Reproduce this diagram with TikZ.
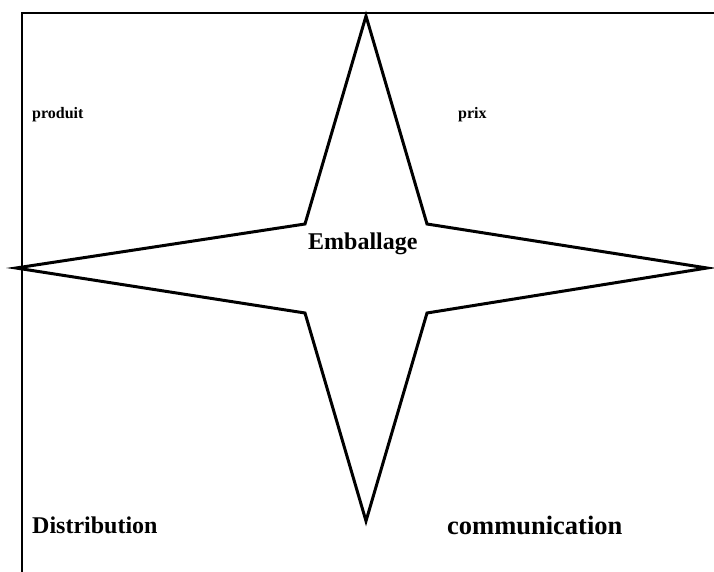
\documentclass[tikz,border=0pt]{standalone}
\usepackage{fontspec}
\setmainfont{Liberation Serif}
\usetikzlibrary{positioning}

\begin{document}
\begin{tikzpicture}[
      x=1pt, y=-1pt,
      every node/.style={inner sep=0pt, font=\bfseries},
      frameline/.style={line width=2.5pt},
      starline/.style={line width=3pt, line join=miter},
      biglabel/.style={anchor=base west, font=\fontsize{24}{28}\selectfont\bfseries},
      smalllabel/.style={anchor=base west, font=\fontsize{16}{19}\selectfont\bfseries},
    ]
    \useasboundingbox (0,0) rectangle (714,572);

    % Frame: top and left edges
    \draw[frameline] (22,572) -- (22,13) -- (714,13);

    % Four-pointed star
    \coordinate (top)    at (366,16);
    \coordinate (right)  at (707,268);
    \coordinate (bottom) at (366,521);
    \coordinate (left)   at (16,268);
    \draw[starline] (top) -- (427,224) -- (right) -- (427,313) -- (bottom)
      -- (305,313) -- (left) -- (305,224) -- cycle;

    % Labels
    \node[biglabel] (emballage) at (308,249) {Emballage};
    \node[smalllabel] (produit) at (32,119) {produit};
    \node[smalllabel] (prix) at (458,119) {prix};
    \node[biglabel] (distribution) at (32,533) {Distribution};
    \node[biglabel, font=\fontsize{26.5}{30}\selectfont\bfseries] (communication)
      at (447,534) {communication};
  \end{tikzpicture}
\end{document}
